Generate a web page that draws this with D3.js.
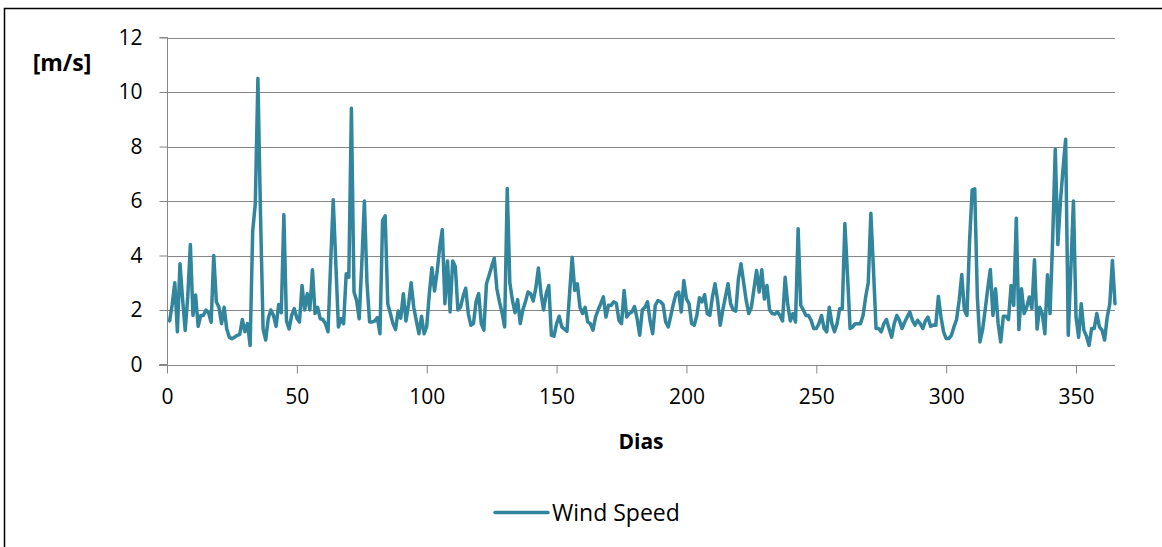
<!DOCTYPE html>
<html>
<head>
<meta charset="utf-8">
<script src="https://cdn.jsdelivr.net/npm/d3@7"></script>
<style>
  html, body { margin: 0; padding: 0; background: #fff; }
  svg { display: block; }
  text { font-family: "Open Sans", "Noto Sans", sans-serif; fill: #000; }
</style>
</head>
<body>
<svg id="chart" width="1162" height="547"></svg>
<script>
// Daily mean wind speed [m/s], days 1..365, ten values per line
const windSpeed = [
  1.6, 2.2, 3.0, 1.2, 3.7, 2.4, 1.25, 2.5, 4.4, 1.8,
  2.55, 1.4, 1.8, 1.8, 2.0, 1.9, 1.55, 4.0, 2.3, 2.1,
  1.5, 2.1, 1.3, 1.0, 0.95, 1.0, 1.07, 1.1, 1.65, 1.2,
  1.5, 0.7, 4.9, 5.9, 10.5, 5.5, 1.3, 0.9, 1.7, 2.0,
  1.8, 1.4, 2.2, 1.9, 5.5, 1.6, 1.3, 1.8, 2.05, 1.7,
  1.56, 2.9, 2.0, 2.6, 2.0, 3.48, 1.87, 2.1, 1.68, 1.65,
  1.5, 1.2, 3.7, 6.05, 3.7, 1.38, 1.68, 1.5, 3.33, 3.2,
  9.4, 2.66, 2.35, 1.68, 3.7, 6.0, 3.0, 1.56, 1.56, 1.6,
  1.72, 1.13, 5.28, 5.46, 2.23, 1.87, 1.5, 1.28, 1.96, 1.7,
  2.6, 1.6, 2.2, 3.0, 2.1, 1.6, 1.13, 1.77, 1.13, 1.4,
  2.6, 3.55, 2.7, 3.4, 4.3, 4.95, 2.23, 3.8, 1.93, 3.8,
  3.6, 2.0, 2.1, 2.5, 2.8, 1.87, 1.44, 1.5, 2.3, 2.6,
  1.5, 1.26, 2.96, 3.27, 3.6, 3.9, 2.78, 2.3, 1.9, 1.38,
  6.46, 3.0, 2.35, 1.9, 2.38, 1.5, 2.0, 2.3, 2.66, 2.6,
  2.33, 2.8, 3.54, 2.6, 2.0, 2.6, 2.9, 1.07, 1.04, 1.5,
  1.77, 1.38, 1.3, 1.22, 2.6, 3.94, 2.72, 2.96, 2.1, 1.87,
  2.1, 1.56, 1.5, 1.26, 1.74, 2.0, 2.23, 2.48, 1.74, 2.17,
  2.17, 2.3, 2.25, 1.62, 1.5, 2.72, 1.74, 1.87, 1.93, 2.13,
  1.68, 1.07, 2.0, 2.1, 2.3, 1.6, 1.13, 2.17, 2.35, 2.3,
  2.2, 1.56, 1.38, 1.8, 2.23, 2.6, 2.66, 1.93, 3.08, 2.41,
  2.23, 1.5, 1.44, 1.8, 2.45, 2.3, 2.56, 1.87, 1.8, 2.48,
  2.96, 2.35, 1.44, 2.0, 2.48, 2.96, 2.23, 2.0, 1.96, 3.14,
  3.7, 3.02, 2.35, 1.87, 2.1, 2.78, 3.45, 2.66, 3.48, 2.4,
  2.9, 2.0, 1.87, 1.85, 1.93, 1.8, 1.6, 3.2, 2.2, 1.6,
  1.87, 1.56, 4.98, 2.17, 2.0, 1.8, 1.8, 1.62, 1.32, 1.32,
  1.5, 1.8, 1.32, 1.2, 2.1, 1.5, 1.2, 1.5, 2.05, 2.05,
  5.17, 3.3, 1.32, 1.38, 1.5, 1.5, 1.5, 1.8, 2.48, 3.0,
  5.55, 3.5, 1.32, 1.32, 1.2, 1.5, 1.65, 1.32, 1.0, 1.5,
  1.8, 1.62, 1.32, 1.55, 1.74, 1.93, 1.62, 1.44, 1.62, 1.5,
  1.32, 1.6, 1.74, 1.4, 1.45, 1.44, 2.5, 1.74, 1.2, 0.95,
  0.95, 1.07, 1.38, 1.65, 2.35, 3.3, 2.0, 1.8, 4.5, 6.4,
  6.45, 2.48, 0.83, 1.26, 2.0, 2.78, 3.49, 1.8, 2.78, 1.5,
  0.83, 1.77, 1.77, 1.65, 2.9, 2.17, 5.37, 1.28, 2.78, 1.87,
  2.1, 2.48, 2.05, 3.84, 1.3, 2.1, 1.87, 1.13, 3.29, 1.87,
  4.6, 7.9, 4.4, 6.0, 7.2, 8.27, 1.07, 3.5, 6.0, 1.74,
  1.0, 2.23, 1.26, 1.04, 0.7, 1.32, 1.32, 1.87, 1.38, 1.26,
  0.9, 1.74, 2.23, 3.82, 2.23
];
const dayTicks = [0, 50, 100, 150, 200, 250, 300, 350];
const speedTicks = [0, 2, 4, 6, 8, 10, 12];
const yAxisTitle = "[m/s]";
const xAxisTitle = "Dias";
const seriesName = "Wind Speed";

const days = windSpeed.map((v, i) => i + 1);
const series = windSpeed.map((v, i) => ({ day: days[i], speed: v }));

const lineColor = "#31859c";
const gridColor = "#868686";

const svg = d3.select("#chart");

// outer chart frame
svg.append("rect")
  .attr("x", 4.5).attr("y", 8.5)
  .attr("width", 1200).attr("height", 600)
  .attr("fill", "none").attr("stroke", "#000").attr("stroke-width", 1.5);

const x = d3.scaleLinear().domain([0, 365]).range([167, 1115]);
const y = d3.scaleLinear().domain([0, 12]).range([364.5, 37.5]);

// horizontal gridlines
svg.append("g")
  .selectAll("line")
  .data(speedTicks.filter(t => t > 0))
  .join("line")
  .attr("x1", x(0)).attr("x2", x(365))
  .attr("y1", d => Math.round(y(d)) + 0.5)
  .attr("y2", d => Math.round(y(d)) + 0.5)
  .attr("stroke", gridColor).attr("stroke-width", 1);

// y axis
const yAxis = d3.axisLeft(y).tickValues(speedTicks).tickSize(8).tickPadding(17)
  .tickFormat(d3.format("d"));
const gy = svg.append("g")
  .attr("transform", `translate(${Math.round(x(0)) + 0.5},0)`)
  .call(yAxis);
gy.select(".domain").attr("stroke", gridColor).attr("d", `M-8,${y(12)}H0V${y(0)}H-8`);
gy.selectAll(".tick line").attr("stroke", gridColor);
gy.selectAll(".tick text").style("font-size", "21px").style("font-family", "'Open Sans', sans-serif")
  .attr("fill", "#000");

// x axis
const xAxis = d3.axisBottom(x).tickValues(dayTicks).tickSize(8).tickPadding(16)
  .tickFormat(d3.format("d"));
const gx = svg.append("g")
  .attr("transform", `translate(0,${Math.round(y(0)) + 0.5})`)
  .call(xAxis);
gx.select(".domain").attr("stroke", gridColor).attr("d", `M${x(0) - 8},0H${x(365)}`);
gx.selectAll(".tick line").attr("stroke", gridColor);
gx.selectAll(".tick text").style("font-size", "21px").style("font-family", "'Open Sans', sans-serif")
  .attr("fill", "#000");

// series line
const line = d3.line().x(d => x(d.day)).y(d => y(d.speed));
svg.append("path")
  .datum(series)
  .attr("d", line)
  .attr("fill", "none")
  .attr("stroke", lineColor)
  .attr("stroke-width", 3.5)
  .attr("stroke-linejoin", "round")
  .attr("stroke-linecap", "round");

// axis titles
svg.append("text")
  .attr("x", 62).attr("y", 62)
  .attr("text-anchor", "middle").attr("dominant-baseline", "central")
  .style("font-size", "23px").style("font-weight", "bold")
  .text(yAxisTitle);

svg.append("text")
  .attr("x", 641).attr("y", 441)
  .attr("text-anchor", "middle").attr("dominant-baseline", "central")
  .style("font-size", "21px").style("font-weight", "bold")
  .text(xAxisTitle);

// legend
const legend = svg.append("g");
legend.append("line")
  .attr("x1", 495).attr("x2", 548)
  .attr("y1", 512.5).attr("y2", 512.5)
  .attr("stroke", lineColor).attr("stroke-width", 3.5).attr("stroke-linecap", "round");
legend.append("text")
  .attr("x", 552).attr("y", 512)
  .attr("dominant-baseline", "central")
  .style("font-size", "23px")
  .text(seriesName);
</script>
</body>
</html>
